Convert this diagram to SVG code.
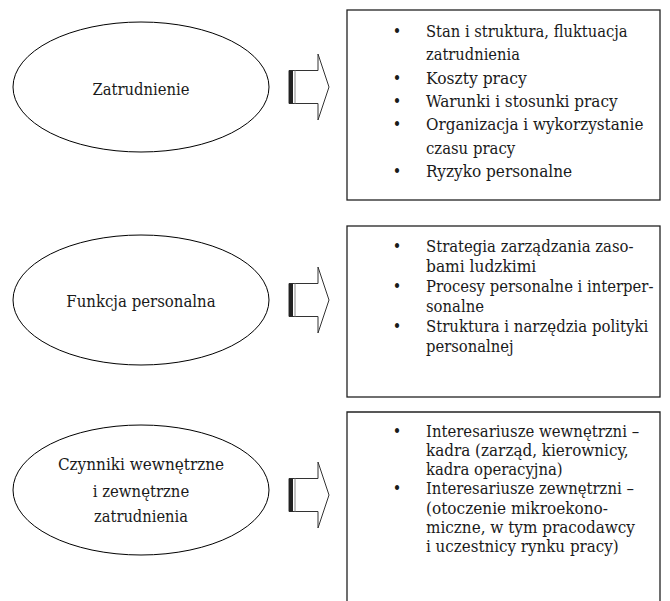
<svg xmlns="http://www.w3.org/2000/svg" width="670" height="601" viewBox="0 0 670 601">
<style>
.el{fill:#fff;stroke:#000;stroke-width:1}
.bx{fill:none;stroke:#222;stroke-width:1.3}
text{font-family:"DejaVu Serif","Liberation Serif",serif;font-size:16px;font-stretch:condensed;fill:#1a1a1a}
.c{text-anchor:middle}
.b{text-anchor:middle}
.ar{fill:#fff;stroke:#333;stroke-width:1}
.bar{fill:#222}
</style>
<defs>
<g id="arrow">
<path class="ar" d="M0,-16.5 H29 V-33 L40,0 L29,33 V16.5 H0 Z"/>
<rect class="bar" x="0" y="-16.5" width="4" height="33"/>
<line x1="6" y1="-16.5" x2="6" y2="16.5" stroke="#888" stroke-width="1"/>
</g>
</defs>
<rect width="670" height="601" fill="#fff"/>
<g id="connectors">
<use href="#arrow" x="289" y="87"/>
<use href="#arrow" x="289" y="300"/>
<use href="#arrow" x="289" y="495"/>
</g>
<g id="node-zatrudnienie">
<ellipse class="el" cx="141" cy="87" rx="128" ry="65"/>
<text class="c" x="141" y="95" textLength="97.1" lengthAdjust="spacingAndGlyphs">Zatrudnienie</text>
</g>
<g id="node-funkcja">
<ellipse class="el" cx="141" cy="300" rx="128" ry="65"/>
<text class="c" x="141" y="307" textLength="149.3" lengthAdjust="spacingAndGlyphs">Funkcja personalna</text>
</g>
<g id="node-czynniki">
<ellipse class="el" cx="141" cy="490" rx="128" ry="65"/>
<text class="c" x="141" y="470" textLength="166.2" lengthAdjust="spacingAndGlyphs">Czynniki wewnętrzne</text>
<text class="c" x="141" y="497" textLength="96.5" lengthAdjust="spacingAndGlyphs">i zewnętrzne</text>
<text class="c" x="141" y="522" textLength="93.9" lengthAdjust="spacingAndGlyphs">zatrudnienia</text>
</g>
<g id="box-1">
<rect class="bx" x="347" y="10" width="313" height="190"/>
<text class="b" x="397" y="37">•</text><text x="426" y="37" textLength="201.6" lengthAdjust="spacingAndGlyphs">Stan i struktura, fluktuacja</text>
<text x="426" y="60" textLength="93.9" lengthAdjust="spacingAndGlyphs">zatrudnienia</text>
<text class="b" x="397" y="84">•</text><text x="426" y="84" textLength="100.8" lengthAdjust="spacingAndGlyphs">Koszty pracy</text>
<text class="b" x="397" y="107">•</text><text x="426" y="107" textLength="191.6" lengthAdjust="spacingAndGlyphs">Warunki i stosunki pracy</text>
<text class="b" x="397" y="130">•</text><text x="426" y="130" textLength="217.4" lengthAdjust="spacingAndGlyphs">Organizacja i wykorzystanie</text>
<text x="426" y="154" textLength="89.1" lengthAdjust="spacingAndGlyphs">czasu pracy</text>
<text class="b" x="397" y="177">•</text><text x="426" y="177" textLength="146.2" lengthAdjust="spacingAndGlyphs">Ryzyko personalne</text>
</g>
<g id="box-2">
<rect class="bx" x="347" y="226" width="313" height="171"/>
<text class="b" x="397" y="252">•</text><text x="426" y="252" textLength="207.5" lengthAdjust="spacingAndGlyphs">Strategia zarządzania zaso-</text>
<text x="426" y="272" textLength="110.3" lengthAdjust="spacingAndGlyphs">bami ludzkimi</text>
<text class="b" x="397" y="292">•</text><text x="426" y="292" textLength="227.4" lengthAdjust="spacingAndGlyphs">Procesy personalne i interper-</text>
<text x="426" y="312" textLength="58" lengthAdjust="spacingAndGlyphs">sonalne</text>
<text class="b" x="397" y="332">•</text><text x="426" y="332" textLength="222.2" lengthAdjust="spacingAndGlyphs">Struktura i narzędzia polityki</text>
<text x="426" y="352" textLength="87.6" lengthAdjust="spacingAndGlyphs">personalnej</text>
</g>
<g id="box-3">
<path class="bx" d="M347,601 V412 H660 V601"/>
<text class="b" x="397" y="437">•</text><text x="426" y="437" textLength="213.1" lengthAdjust="spacingAndGlyphs">Interesariusze wewnętrzni –</text>
<text x="426" y="456" textLength="202.6" lengthAdjust="spacingAndGlyphs">kadra (zarząd, kierownicy,</text>
<text x="426" y="475" textLength="136.6" lengthAdjust="spacingAndGlyphs">kadra operacyjna)</text>
<text class="b" x="397" y="494">•</text><text x="426" y="494" textLength="207.9" lengthAdjust="spacingAndGlyphs">Interesariusze zewnętrzni –</text>
<text x="426" y="514" textLength="182" lengthAdjust="spacingAndGlyphs">(otoczenie mikroekono-</text>
<text x="426" y="533" textLength="208.9" lengthAdjust="spacingAndGlyphs">miczne, w tym pracodawcy</text>
<text x="426" y="552" textLength="192.6" lengthAdjust="spacingAndGlyphs">i uczestnicy rynku pracy)</text>
</g>
</svg>
